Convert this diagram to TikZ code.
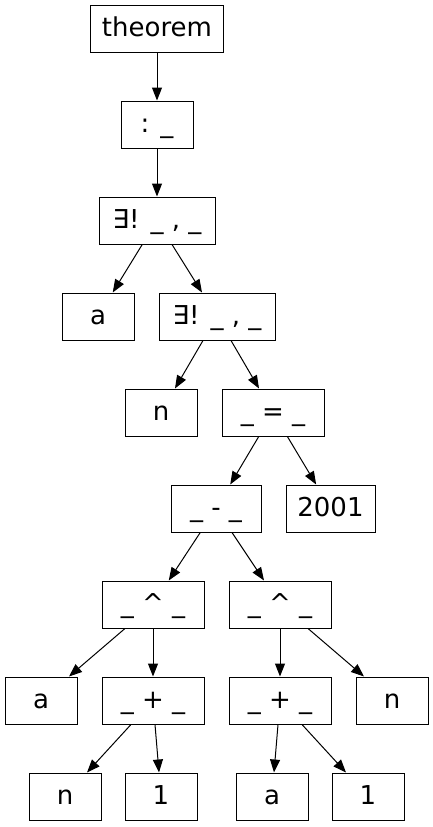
\documentclass[tikz,border=0pt]{standalone}
\usepackage{fontspec}
\setmainfont{DejaVu Sans}
\usetikzlibrary{arrows.meta}
\begin{document}
\begin{tikzpicture}[x=1pt,y=-1pt,
  box/.style={draw,line width=1pt,rectangle,minimum height=47pt,inner sep=0pt,
    font=\fontsize{26}{30}\selectfont,text height=20pt,text depth=4pt},
  edge/.style={line width=1pt,-{Triangle[length=13pt,width=10pt]}}]
\useasboundingbox (0,0) rectangle (433,827);
\node[box,minimum width=133pt] (thm) at (157,28.5) {theorem};
\node[box,minimum width=72pt] (col) at (157,124.5) {: \_};
\node[box,minimum width=116pt] (ex1) at (157,220.5) {∃! \_ , \_};
\node[box,minimum width=72pt] (a1) at (98,316.5) {a};
\node[box,minimum width=116pt] (ex2) at (217,316.5) {∃! \_ , \_};
\node[box,minimum width=72pt] (n1) at (161,412.5) {n};
\node[box,minimum width=102pt] (eq) at (273,412.5) {\_ = \_};
\node[box,minimum width=90pt] (minus) at (216,508.5) {\_ - \_};
\node[box,minimum width=89pt] (y2001) at (330.5,508.5) {2001};
\node[box,minimum width=102pt] (powl) at (153,604.5) {\_ \^{} \_};
\node[box,minimum width=102pt] (powr) at (280,604.5) {\_ \^{} \_};
\node[box,minimum width=72pt] (a2) at (41,700.5) {a};
\node[box,minimum width=102pt] (plusl) at (153,700.5) {\_ + \_};
\node[box,minimum width=102pt] (plusr) at (280,700.5) {\_ + \_};
\node[box,minimum width=72pt] (n2) at (392,700.5) {n};
\node[box,minimum width=72pt] (n3) at (65,796.5) {n};
\node[box,minimum width=72pt] (one1) at (161,796.5) {1};
\node[box,minimum width=72pt] (a3) at (272,796.5) {a};
\node[box,minimum width=72pt] (one2) at (368,796.5) {1};
\draw[edge] (thm) -- (col);
\draw[edge] (col) -- (ex1);
\draw[edge] (ex1) -- (a1);
\draw[edge] (ex1) -- (ex2);
\draw[edge] (ex2) -- (n1);
\draw[edge] (ex2) -- (eq);
\draw[edge] (eq) -- (minus);
\draw[edge] (eq) -- (y2001);
\draw[edge] (minus) -- (powl);
\draw[edge] (minus) -- (powr);
\draw[edge] (powl) -- (a2);
\draw[edge] (powl) -- (plusl);
\draw[edge] (powr) -- (plusr);
\draw[edge] (powr) -- (n2);
\draw[edge] (plusl) -- (n3);
\draw[edge] (plusl) -- (one1);
\draw[edge] (plusr) -- (a3);
\draw[edge] (plusr) -- (one2);
\end{tikzpicture}
\end{document}
